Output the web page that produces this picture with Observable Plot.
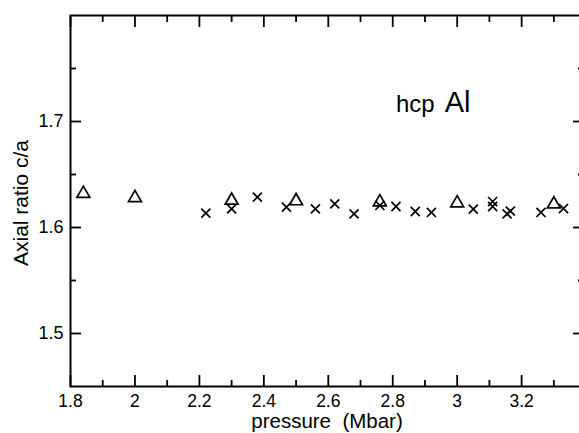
<!DOCTYPE html>
<html><head><meta charset="utf-8">
<script src="https://cdn.jsdelivr.net/npm/d3@7"></script>
<script src="https://cdn.jsdelivr.net/npm/@observablehq/plot@0.6"></script>
<style>
html,body{margin:0;padding:0;background:#fff;overflow:hidden}
#chart{width:579px;height:433px;overflow:hidden}
#chart svg{max-width:none !important;}
</style></head><body><div id="chart"></div>
<script>
// Triangles (one data set)
const triPressure = [1.84, 2.00, 2.30, 2.50, 2.76, 3.00, 3.30];
const triRatio    = [1.632, 1.628, 1.6255, 1.625, 1.624, 1.623, 1.622];
// Crosses (other data set)
const crossPressure = [2.22, 2.30, 2.38, 2.47, 2.56, 2.62, 2.68, 2.76, 2.81, 2.87, 2.92, 3.05, 3.11, 3.11, 3.155, 3.165, 3.26, 3.33];
const crossRatio    = [1.6135, 1.6176, 1.6286, 1.6192, 1.6176, 1.6223, 1.6129, 1.6208, 1.6198, 1.6151, 1.6142, 1.6173, 1.6245, 1.6198, 1.6129, 1.6154, 1.6142, 1.6179];
// Axes
const xMajor = [1.8, 2.0, 2.2, 2.4, 2.6, 2.8, 3.0, 3.2];
const xTickLabels = ["1.8", "2", "2.2", "2.4", "2.6", "2.8", "3", "3.2"];
const xMinor = [1.9, 2.1, 2.3, 2.5, 2.7, 2.9, 3.1, 3.3];
const yMajor = [1.5, 1.6, 1.7];
const yTickLabels = ["1.5", "1.6", "1.7"];
const yMinor = [1.55, 1.65, 1.75];
const xTitle = "pressure\u00a0 (Mbar)";
const yTitle = "Axial ratio c/a";
const annotation = ["hcp", "Al"];
const annotX = [2.93];
const annotY = [1.709];

const tri = triPressure.map((p, i) => ({p, r: triRatio[i]}));
const cross = crossPressure.map((p, i) => ({p, r: crossRatio[i]}));

const font = "'Liberation Sans', Arial, Helvetica, sans-serif";
const blank = () => "";

const chart = Plot.plot({
  width: 583, height: 433,
  marginLeft: 70, marginRight: 0, marginTop: 15, marginBottom: 47,
  x: {domain: [1.8, 3.392]},
  y: {domain: [1.45, 1.8]},
  style: {fontFamily: font, background: "white", color: "black", maxWidth: "none"},
  marks: [
    Plot.frame({stroke: "black", strokeWidth: 2}),
    Plot.axisX(xMajor, {anchor: "bottom", tickSize: -11, tickPadding: 19, strokeWidth: 1.8, tickFormat: (d, i) => xTickLabels[i], fontSize: 17.5, label: null}),
    Plot.axisX(xMinor, {anchor: "bottom", tickSize: -6, strokeWidth: 1.8, tickFormat: blank, label: null}),
    Plot.axisX(xMajor, {anchor: "top", tickSize: -11, strokeWidth: 1.8, tickFormat: blank, label: null}),
    Plot.axisX(xMinor, {anchor: "top", tickSize: -6, strokeWidth: 1.8, tickFormat: blank, label: null}),
    Plot.axisY(yMajor, {anchor: "left", tickSize: -11, tickPadding: 18, strokeWidth: 1.8, tickFormat: (d, i) => yTickLabels[i], fontSize: 18, label: null}),
    Plot.axisY(yMinor, {anchor: "left", tickSize: -6, strokeWidth: 1.8, tickFormat: blank, label: null}),
    Plot.axisY(yMajor, {anchor: "right", tickSize: -11, strokeWidth: 1.8, tickFormat: blank, label: null}),
    Plot.axisY(yMinor, {anchor: "right", tickSize: -6, strokeWidth: 1.8, tickFormat: blank, label: null}),
    Plot.text([xTitle], {frameAnchor: "bottom", textAnchor: "middle", lineAnchor: "middle", dy: 35, fontSize: 20.5, fill: "black"}),
    Plot.text([yTitle], {frameAnchor: "left", textAnchor: "middle", lineAnchor: "middle", dx: -49, dy: 2, rotate: -90, fontSize: 21, fill: "black"}),
    Plot.text([annotation[0]], {x: () => annotX[0], y: () => annotY[0], textAnchor: "end", lineAnchor: "bottom", fontSize: 24, fill: "black"}),
    Plot.text([annotation[1]], {x: () => annotX[0], y: () => annotY[0], dx: 10, textAnchor: "start", lineAnchor: "bottom", fontSize: 29, fill: "black"}),
    Plot.dot(tri, {x: "p", y: "r", symbol: "triangle", r: 4.8, stroke: "black", strokeWidth: 1.7, fill: "none"}),
    Plot.dot(cross, {x: "p", y: "r", symbol: "times", r: 4.2, stroke: "black", strokeWidth: 1.7, fill: "none"})
  ]
});
document.getElementById("chart").appendChild(chart);
</script></body></html>
